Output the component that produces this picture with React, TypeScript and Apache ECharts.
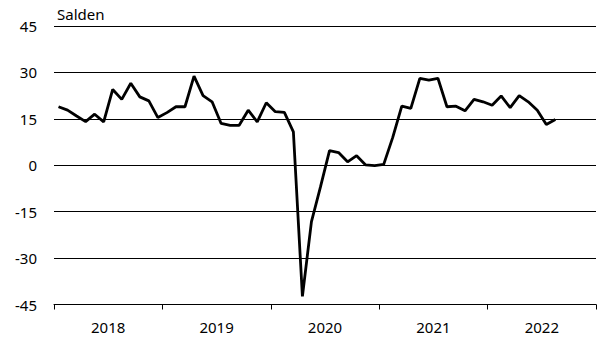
import React, { useEffect, useRef } from "react";
import * as echarts from "echarts";

const years = ["2018", "2019", "2020", "2021", "2022"];
const months = [
  "2018-01","2018-02","2018-03","2018-04","2018-05","2018-06","2018-07","2018-08","2018-09","2018-10","2018-11","2018-12",
  "2019-01","2019-02","2019-03","2019-04","2019-05","2019-06","2019-07","2019-08","2019-09","2019-10","2019-11","2019-12",
  "2020-01","2020-02","2020-03","2020-04","2020-05","2020-06","2020-07","2020-08","2020-09","2020-10","2020-11","2020-12",
  "2021-01","2021-02","2021-03","2021-04","2021-05","2021-06","2021-07","2021-08","2021-09","2021-10","2021-11","2021-12",
  "2022-01","2022-02","2022-03","2022-04","2022-05","2022-06","2022-07","2022-08","2022-09","2022-10","2022-11","2022-12",
];
const salden = [
  18.9, 17.8, 15.9, 14.1, 16.5, 14.0, 24.5, 21.3, 26.5, 22.1, 20.8, 15.4,
  17.0, 18.9, 18.9, 28.8, 22.5, 20.5, 13.5, 12.9, 12.9, 17.8, 14.0, 20.2,
  17.3, 17.1, 10.8, -42.4, -18.2, -7.0, 4.7, 4.1, 1.1, 3.1, 0.1, -0.1,
  0.3, 9.0, 19.1, 18.4, 28.1, 27.5, 28.1, 18.9, 19.1, 17.6, 21.3, 20.5,
  19.4, 22.4, 18.6, 22.5, 20.5, 17.8, 13.2, 14.8,
];
const yTicks = { min: -45, max: 45, interval: 15 };
const yTitle = "Salden";

export default function App() {
  const ref = useRef<HTMLDivElement>(null);
  useEffect(() => {
    const chart = echarts.init(ref.current!, null, { renderer: "svg" });
    const font = "Noto Sans";
    chart.setOption({
      animation: false,
      textStyle: { fontFamily: font },
      title: {
        text: yTitle,
        left: 52,
        top: 1,
        textStyle: { fontFamily: font, fontSize: 15, fontWeight: "normal", color: "#000" },
      },
      grid: { left: 54, right: 1, top: 26, bottom: 38.5, containLabel: false },
      xAxis: [
        {
          type: "category",
          data: months,
          boundaryGap: true,
          show: false,
        },
        {
          type: "category",
          data: years,
          boundaryGap: true,
          position: "bottom",
          axisLine: { show: true, lineStyle: { color: "#000", width: 1 } },
          axisTick: { show: true, length: 5, lineStyle: { color: "#000" } },
          axisLabel: { color: "#000", fontSize: 15, margin: 15, fontFamily: font },
          splitLine: { show: false },
        },
      ],
      yAxis: {
        type: "value",
        min: yTicks.min,
        max: yTicks.max,
        interval: yTicks.interval,
        axisLine: { show: false },
        axisTick: { show: false },
        axisLabel: { color: "#000", fontSize: 15, margin: 17, fontFamily: font },
        splitLine: { show: true, lineStyle: { color: "#000", width: 1 } },
      },
      series: [
        {
          type: "line",
          xAxisIndex: 0,
          data: salden,
          symbol: "none",
          lineStyle: { color: "#000", width: 2.8 },
        },
      ],
    });
    return () => chart.dispose();
  }, []);
  return <div ref={ref} style={{ width: 597, height: 343, position: "absolute", left: 0, top: 0 }} />;
}
